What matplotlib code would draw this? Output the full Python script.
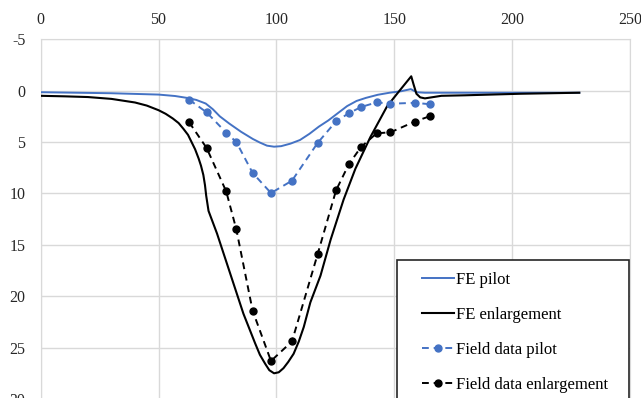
import matplotlib
matplotlib.use('Agg')
import matplotlib.pyplot as plt
from matplotlib.patches import Rectangle

plt.rcParams['font.family'] = ['Liberation Serif', 'DejaVu Serif']
plt.rcParams['axes.unicode_minus'] = False

blue = '#4472C4'

# FE pilot (solid blue)
fe_pilot_x = [0, 30, 50, 57, 62, 66, 70, 73, 76, 80, 85, 90, 93, 96, 99, 102, 106, 110,
              114, 118, 122, 126, 130, 134, 138, 143, 148, 153, 157, 159.5, 163, 180, 200, 228.5]
fe_pilot_y = [0.15, 0.25, 0.38, 0.52, 0.7, 0.9, 1.25, 1.8, 2.5, 3.2, 4.0, 4.7, 5.05, 5.35, 5.45, 5.4, 5.15, 4.8,
              4.2, 3.5, 2.9, 2.2, 1.5, 1.0, 0.7, 0.4, 0.2, 0.05, -0.15, 0.15, 0.2, 0.2, 0.2, 0.2]

# FE enlargement (solid black)
fe_enl_x = [0, 10, 20, 30, 40, 45, 50, 53, 56, 58.5, 60.5, 62.5, 64, 65.5, 67, 68, 69, 69.7, 70.2, 71.2,
            74.8, 80.4, 86, 91, 93, 95.3, 97, 99, 101, 103, 105, 107.3, 109.5, 111.6, 113, 114.4,
            118.7, 123, 128.5, 133.5, 139.9, 147, 152.6, 157.2,
            158.2, 159.4, 161, 163, 170, 180, 203.6, 228.5]
fe_enl_y = [0.5, 0.55, 0.62, 0.8, 1.15, 1.45, 1.9, 2.25, 2.7, 3.15, 3.7, 4.3, 5.0, 5.7, 6.6, 7.3, 8.2, 9.2, 10.2, 11.7,
            13.9, 17.8, 21.7, 24.6, 25.7, 26.6, 27.2, 27.5, 27.4, 27.0, 26.4, 25.6, 24.4, 23.0, 21.8, 20.6,
            18.0, 14.5, 10.6, 7.6, 4.5, 1.5, -0.1, -1.4,
            -0.6, 0.3, 0.65, 0.75, 0.5, 0.45, 0.3, 0.2]

# field data, same stations for both
field_x = [63.0, 70.4, 78.7, 83.0, 89.9, 97.7, 106.6, 117.5, 125.3, 130.7, 135.9, 142.5, 148.4, 158.8, 165.1]
field_pilot = [0.88, 2.11, 4.09, 5.0, 8.0, 9.96, 8.76, 5.08, 2.98, 2.2, 1.59, 1.14, 1.27, 1.18, 1.32]
field_enl = [3.08, 5.58, 9.8, 13.5, 21.4, 26.3, 24.4, 15.9, 9.7, 7.17, 5.48, 4.15, 4.05, 3.0, 2.48]

fig = plt.figure(figsize=(6.41, 3.98), dpi=100)
ax = fig.add_axes([0.0635, -0.0025, 0.9193, 0.9038])

ax.plot(fe_pilot_x, fe_pilot_y, color=blue, lw=1.4, label='FE pilot', zorder=3)
ax.plot(fe_enl_x, fe_enl_y, color='black', lw=1.5, label='FE enlargement', zorder=3)
ax.plot(field_x, field_pilot, color=blue, lw=1.4, ls=(0, (3.5, 2.5)), marker='o', ms=5,
        label='Field data pilot', zorder=4)
ax.plot(field_x, field_enl, color='black', lw=1.4, ls=(0, (3.5, 2.5)), marker='o', ms=5,
        label='Field data enlargement', zorder=4)

ax.set_xlim(0, 250)
ax.set_ylim(30, -5)
ax.set_xticks(range(0, 251, 50))
ax.set_yticks(range(-5, 31, 5))
ax.xaxis.tick_top()
ax.tick_params(length=0, labelsize=11.5, colors='#262626')
ax.tick_params(axis='x', pad=8)
ax.tick_params(axis='y', pad=11)
ax.grid(True, color='#d9d9d9', lw=1)
ax.set_axisbelow(True)
for s in ax.spines.values():
    s.set_color('#d9d9d9')

# legend box (extends below the figure like the original)
ax.add_patch(Rectangle((396.7 / 641, -0.05), (629.3 - 396.7) / 641, 0.346 + 0.05,
                       transform=fig.transFigure, facecolor='white', edgecolor='#262626',
                       lw=1.2, clip_on=False, zorder=4.5))
leg = ax.legend(loc='upper left', bbox_to_anchor=(421.7 / 641, 1 - 271.7 / 398),
                bbox_transform=fig.transFigure, frameon=False, fontsize=12,
                borderpad=0, borderaxespad=0, handlelength=1.92, handletextpad=0.12,
                labelspacing=1.14)
leg.set_zorder(5)

fig.savefig('out.png', dpi=100)
